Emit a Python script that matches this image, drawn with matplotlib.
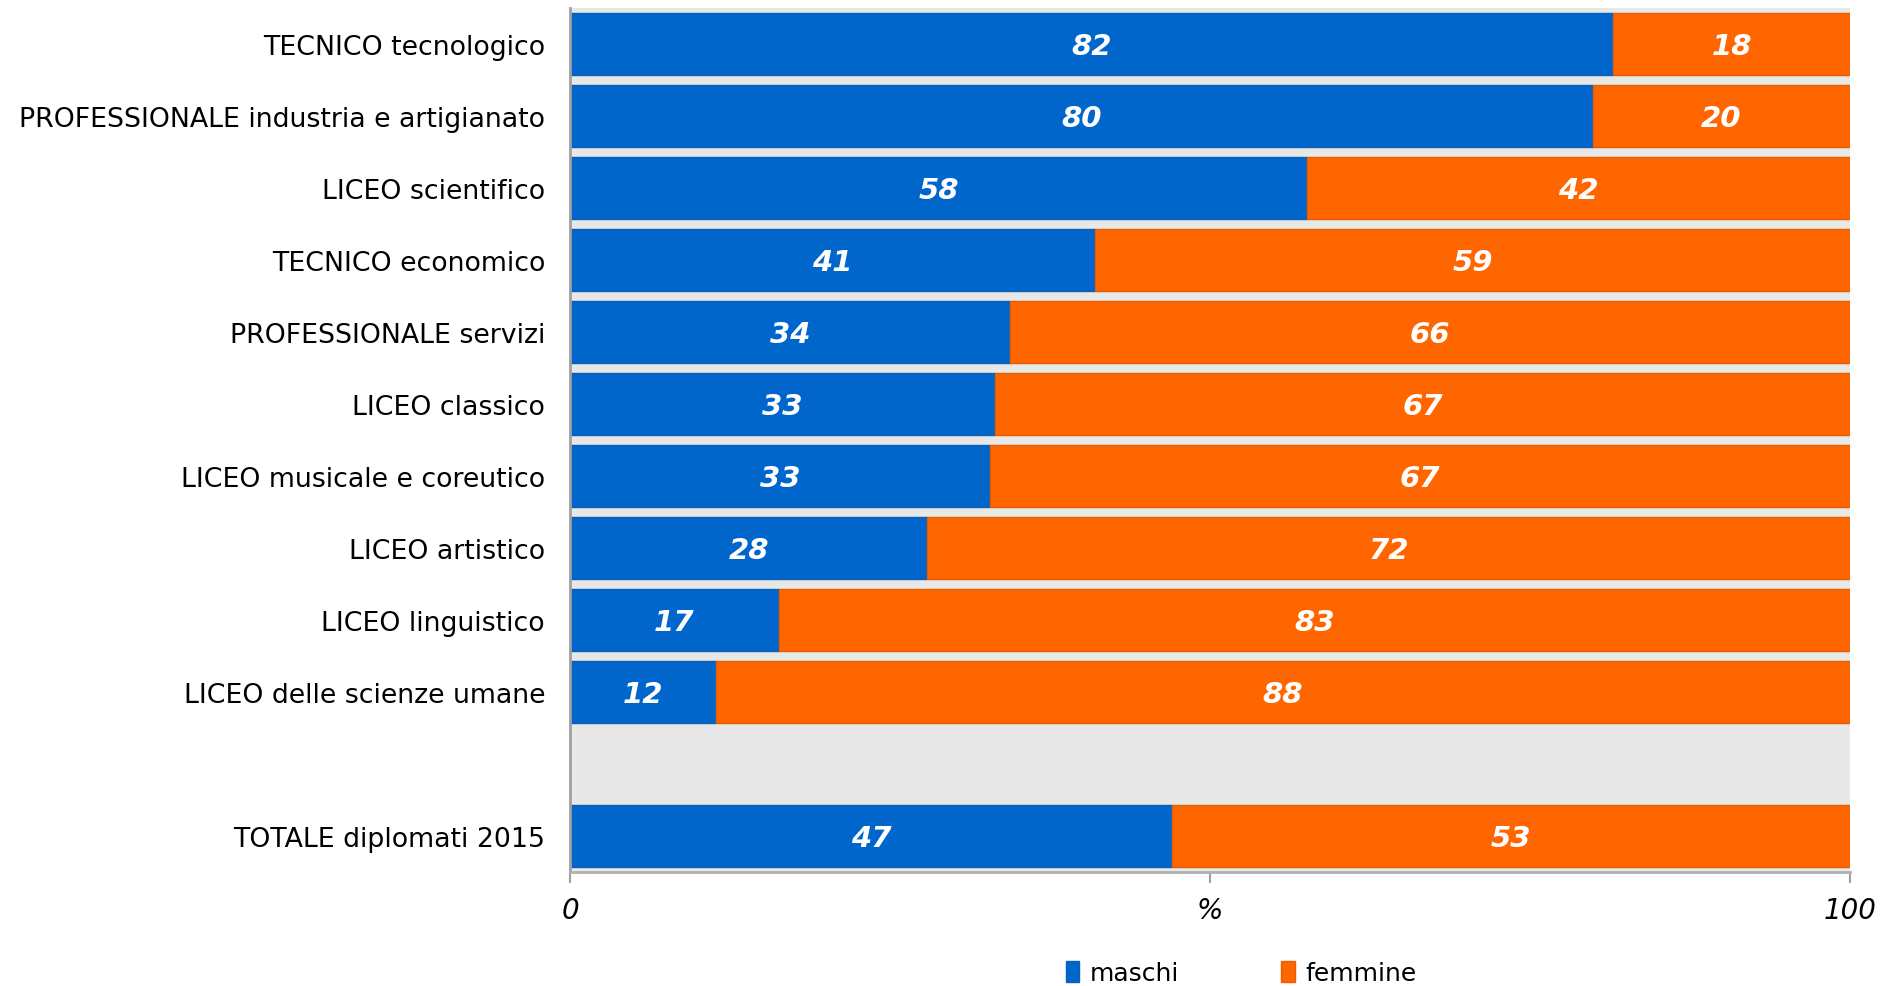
import matplotlib
matplotlib.use("Agg")
import matplotlib.pyplot as plt
import numpy as np

categories = [
    "TECNICO tecnologico",
    "PROFESSIONALE industria e artigianato",
    "LICEO scientifico",
    "TECNICO economico",
    "PROFESSIONALE servizi",
    "LICEO classico",
    "LICEO musicale e coreutico",
    "LICEO artistico",
    "LICEO linguistico",
    "LICEO delle scienze umane",
    "",
    "TOTALE diplomati 2015",
]
# bar lengths (share of males, %)
maschi = [81.5, 79.9, 57.6, 41.0, 34.4, 33.2, 32.8, 27.9, 16.3, 11.4, None, 47.0]
# printed labels
maschi_lbl = [82, 80, 58, 41, 34, 33, 33, 28, 17, 12, None, 47]
femmine_lbl = [18, 20, 42, 59, 66, 67, 67, 72, 83, 88, None, 53]
series_names = ["maschi", "femmine"]
xtick_vals = [0, 50, 100]
xtick_labels = ["0", "%", "100"]

BLUE = "#0066CC"
ORANGE = "#FF6600"

plt.rcParams['font.family'] = ['DejaVu Sans']
fig = plt.figure(figsize=(18.81, 9.87), dpi=100)
ax = fig.add_axes([570/1881, 1 - 873/987, (1850-570)/1881, (873-9)/987])
ax.set_facecolor("#E8E8E8")

y = np.arange(len(categories))
h = 0.86
for i, (m, ml, fl) in enumerate(zip(maschi, maschi_lbl, femmine_lbl)):
    if m is None:
        continue
    f = 100 - m
    ax.barh(i, m, height=h, color=BLUE, edgecolor="#0A5FB4", linewidth=1,
            label=series_names[0] if i == 0 else None)
    ax.barh(i, f, left=m, height=h, color=ORANGE, edgecolor="#E85C00", linewidth=1,
            label=series_names[1] if i == 0 else None)
    ax.text(m / 2, i + 0.03, str(ml), ha="center", va="center", color="white",
            fontsize=21, fontweight="bold", fontstyle="italic")
    ax.text(m + f / 2, i + 0.03, str(fl), ha="center", va="center", color="white",
            fontsize=21, fontweight="bold", fontstyle="italic")

ax.set_xlim(0, 100)
ax.set_ylim(len(categories) - 0.5, -0.5)
ax.set_yticks(y)
ax.set_yticklabels(categories, fontsize=19.3)
ax.tick_params(axis="y", length=0, pad=18)
ax.set_xticks(xtick_vals)
ax.set_xticklabels(xtick_labels, fontsize=20, fontstyle="italic")
ax.tick_params(axis="x", length=8, width=1.5, color="#A0A0A0", pad=9)

for s in ["top", "right"]:
    ax.spines[s].set_visible(False)
ax.spines["left"].set_color("#A0A0A0")
ax.spines["left"].set_linewidth(2)
ax.spines["bottom"].set_color("#B0B0B0")
ax.spines["bottom"].set_linewidth(2)

leg = fig.legend(loc="center left", bbox_to_anchor=(1053/1881, 1 - 974/987), ncol=2,
                 frameon=False, fontsize=18, handlelength=0.55, handleheight=0.9,
                 columnspacing=4.1, handletextpad=0.4, borderpad=0)

fig.savefig("out.png", dpi=100)
